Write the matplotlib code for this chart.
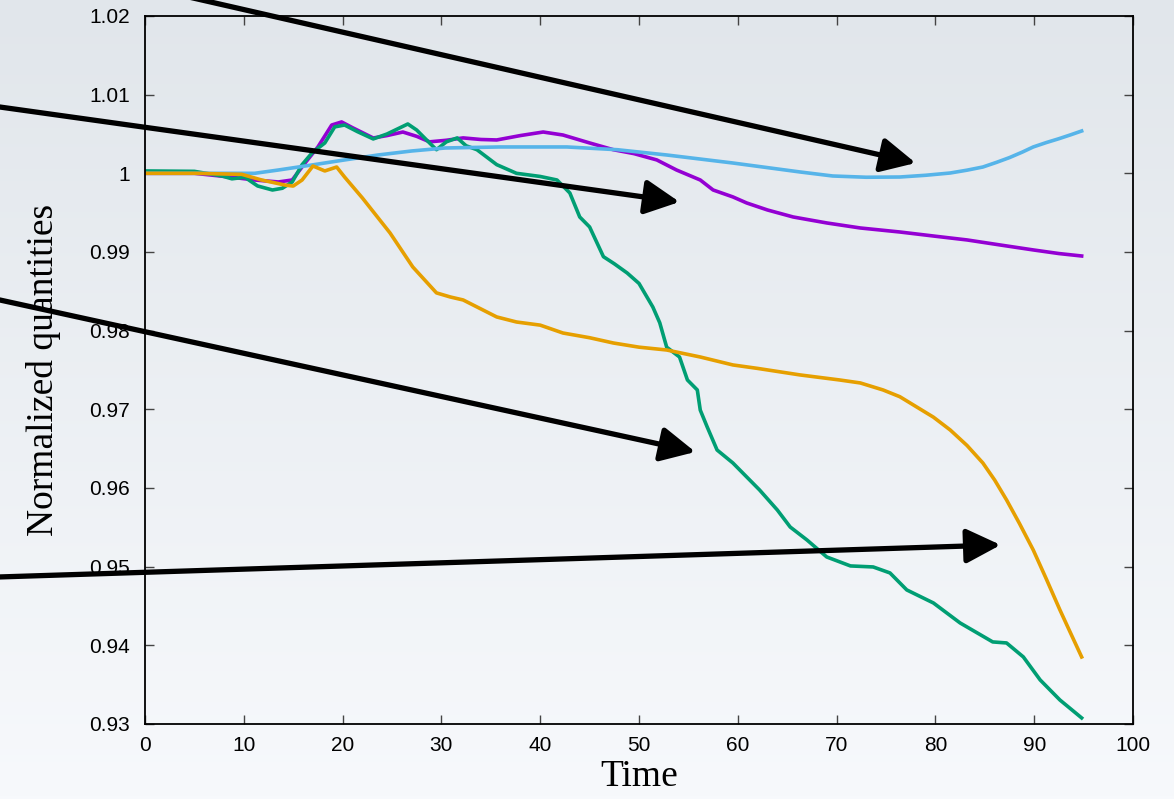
import matplotlib
matplotlib.use("Agg")
import matplotlib.pyplot as plt
import numpy as np
from matplotlib.ticker import FuncFormatter, MultipleLocator

# series (time, normalized value)
purple_t = [0, 5, 8.8, 11.1, 13.5, 14.9, 16.2, 17.5, 18.9, 19.9, 21, 23.1, 24.5, 26.1,
            27.5, 28.8, 30.5, 32.2, 34, 35.6, 38, 40.3, 42.3, 45, 47.4, 49.5, 51.8, 53.8,
            56.2, 57.5, 59.5, 60.9, 63, 65.6, 69, 72.4, 76.4, 80, 83.2, 86.5, 89.9, 92.5, 94.8]
purple_v = [1.0, 1.0, 0.9995, 0.99915, 0.9989, 0.99915, 1.00131, 1.00335, 1.00614, 1.00653,
            1.0058, 1.00449, 1.0048, 1.00525, 1.0047, 1.0040, 1.0042, 1.0045, 1.0043, 1.00424,
            1.0048, 1.00525, 1.00487, 1.00386, 1.0030, 1.0025, 1.0017, 1.00042, 0.99915,
            0.99788, 0.9970, 0.99623, 0.99534, 0.99445, 0.99369, 0.99305, 0.99254, 0.9920,
            0.99153, 0.9909, 0.99026, 0.9898, 0.98949]

green_t = [0, 5, 7.8, 8.8, 10.1, 11.4, 12.9, 13.9, 14.9, 15.9, 16.9, 18.2, 19.2, 20.2, 21.5,
           23.1, 24.5, 26.6, 27.5, 28.8, 29.5, 30.5, 31.6, 32.5, 33.6, 35.6, 37.6, 40, 41.7,
           43, 44, 45, 46.4, 47.5, 48.8, 50, 51.4, 52.1, 52.8, 54.1, 54.9, 55.9, 56.2, 56.9,
           57.9, 59.5, 60.9, 62.2, 64, 65.3, 67, 69, 71.4, 73.7, 75.4, 77.1, 79.8, 82.5, 85.8,
           87.2, 88.9, 90.6, 92.6, 94.8]
green_v = [1.0003, 1.00025, 0.99966, 0.9993, 0.9995, 0.99839, 0.99788, 0.9981, 0.9989, 1.0011,
           1.00258, 1.00386, 1.0059, 1.00614, 1.0053, 1.00437, 1.0050, 1.00627, 1.0055,
           1.00386, 1.0030, 1.0040, 1.0045, 1.0035, 1.0030, 1.0011, 1.0000, 0.9996, 0.99915,
           0.9975, 0.99445, 0.99318, 0.9894, 0.9885, 0.98733, 0.9860, 0.9830, 0.9810, 0.9779,
           0.97665, 0.97373, 0.97246, 0.9699, 0.96776, 0.96483, 0.96318, 0.9614, 0.95975,
           0.9572, 0.95504, 0.95339, 0.95123, 0.95009, 0.94996, 0.9492, 0.94704, 0.94538,
           0.94284, 0.94043, 0.9403, 0.93852, 0.9356, 0.93305, 0.93077]

blue_t = [0, 5, 10, 11.1, 13.5, 16.9, 20.2, 23.6, 27, 30.4, 35.9, 42.7, 47.8, 52.8, 59.5,
          66.3, 69.6, 73, 76.4, 79, 81.5, 83.2, 84.8, 86.2, 87.5, 88.8, 89.9, 91.2, 92.5,
          93.7, 94.8]
blue_v = [1.0, 1.0, 1.0, 1.0, 1.00042, 1.00106, 1.0017, 1.00233, 1.00284, 1.00322, 1.00335,
          1.00335, 1.0030, 1.00233, 1.00131, 1.00017, 0.99966, 0.9995, 0.99953, 0.99975,
          1.00004, 1.0004, 1.0008, 1.0014, 1.0020, 1.0027, 1.00335, 1.0039, 1.0044,
          1.0049, 1.00538]

orange_t = [0, 5, 9.8, 11.8, 14.2, 15, 15.9, 17, 18.2, 19.4, 20.2, 22, 24.8, 27.1, 29.5, 30.9,
            32.2, 35.6, 37.6, 40, 42.3, 45, 47.4, 50, 52.8, 56.2, 59.5, 62, 66.3, 70.3, 72.4,
            74.7, 76.4, 78.1, 79.8, 81.5, 83.2, 84.8, 86, 87.2, 88.5, 89.9, 91.2, 92.6,
            93.7, 94.8]
orange_v = [1.0, 1.0, 0.99987, 0.99915, 0.9985, 0.99838, 0.99915, 1.00093, 1.0003, 1.0008,
            0.99953, 0.99687, 0.99242, 0.9881, 0.9848, 0.98428, 0.9839, 0.98174, 0.9811,
            0.9807, 0.9797, 0.9791, 0.97843, 0.9779, 0.97754, 0.97665, 0.97564, 0.9752,
            0.97437, 0.97373, 0.97335, 0.97246, 0.9716, 0.9703, 0.9690, 0.96737, 0.9654,
            0.96318, 0.9610, 0.95848, 0.9555, 0.95212, 0.9485, 0.9445, 0.9415, 0.93852]

# arrows: (tail x, tail y) -> (tip x, tip y), in data units
arrow_tails = [(-14.7, 1.0279), (-14.7, 1.00843), (-14.7, 0.9839), (-14.7, 0.94869)]
arrow_tips = [(78.0, 1.00131), (54.1, 0.99636), (55.7, 0.96458), (86.6, 0.95276)]

x_ticks = list(range(0, 101, 10))

fig = plt.figure(figsize=(11.74, 7.99), dpi=100)

# pale chalkboard-like backdrop
bg = fig.add_axes([0, 0, 1, 1], zorder=-10)
top = np.array([225, 230, 235]) / 255
bottom = np.array([247, 249, 252]) / 255
frac = np.linspace(0, 1, 256)[:, None]
grad = top[None, :] * (1 - frac) + bottom[None, :] * frac
bg.imshow(grad[:, None, :].repeat(4, axis=1), aspect="auto", extent=[0, 1, 0, 1])
bg.axis("off")

ax = fig.add_axes([0.1235, 0.0939, 0.8416, 0.8861])
ax.set_facecolor("none")

lw = 2.6
ax.plot(purple_t, purple_v, color="#9400D3", lw=lw)
ax.plot(green_t, green_v, color="#009E73", lw=lw)
ax.plot(blue_t, blue_v, color="#56B4E9", lw=lw)
ax.plot(orange_t, orange_v, color="#E69F00", lw=lw)

for tail, tip in zip(arrow_tails, arrow_tips):
    ax.annotate("", xy=tip, xytext=tail, xycoords="data", annotation_clip=False,
                arrowprops=dict(arrowstyle="-|>,head_length=2.1,head_width=1.05",
                                color="black", lw=3.8, mutation_scale=10,
                                shrinkA=0, shrinkB=0), zorder=10)

ax.set_xlim(0, 100)
ax.set_ylim(0.93, 1.02)
ax.set_xticks(x_ticks)
ax.yaxis.set_major_locator(MultipleLocator(0.01))
ax.yaxis.set_major_formatter(FuncFormatter(lambda v, _: "%g" % round(v, 4)))

for s in ax.spines.values():
    s.set_linewidth(1.3)
    s.set_color("black")
ax.tick_params(direction="in", length=6.5, width=1.0, color="#444444",
               top=True, right=True, labelsize=15)
ax.tick_params(axis="x", pad=9)
ax.tick_params(axis="y", pad=11)
for lab in ax.get_xticklabels() + ax.get_yticklabels():
    lab.set_fontfamily("Liberation Sans")

ax.set_xlabel("Time", fontsize=27, fontfamily="Liberation Serif", labelpad=3)
ax.set_ylabel("Normalized quantities", fontsize=27, fontfamily="Liberation Serif",
              labelpad=20)

fig.savefig("out.png", dpi=100)
